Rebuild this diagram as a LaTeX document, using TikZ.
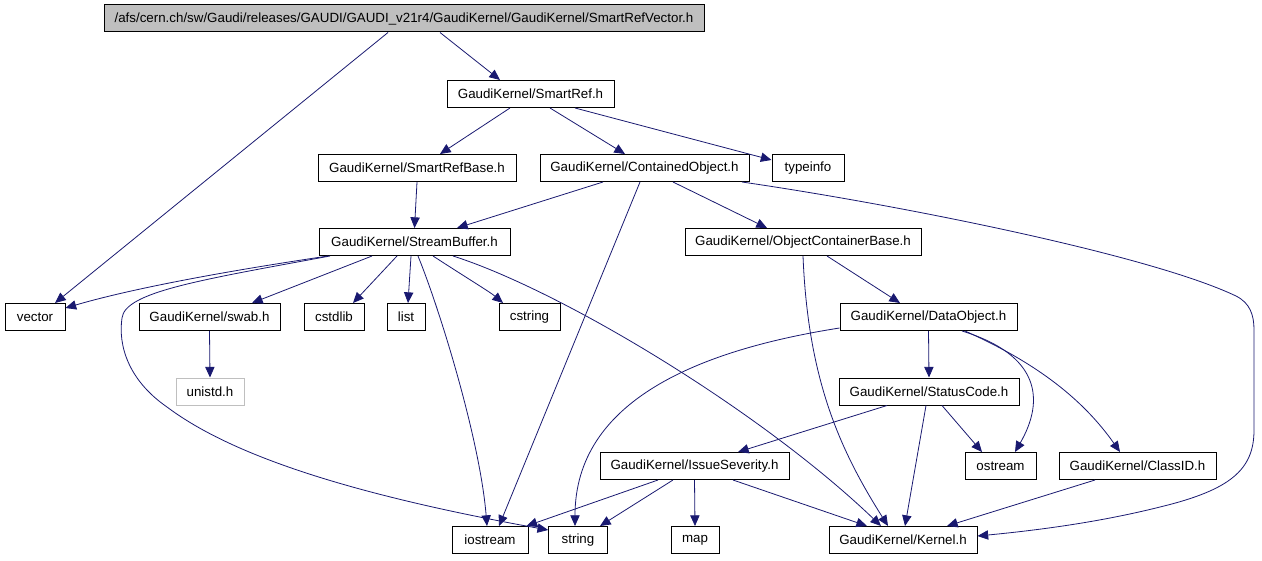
\documentclass[tikz,border=0pt]{standalone}
\usepackage{fontspec}
\setmainfont{Liberation Sans}
\usepackage{tikz}
\usetikzlibrary{calc,arrows.meta}
\definecolor{edgeblue}{RGB}{25,25,112}
\definecolor{rootgray}{RGB}{191,191,191}

\tikzset{
  hdr/.style={draw=black, line width=0.75pt, fill=white, inner sep=0pt,
    minimum height=20.25pt, font=\fontsize{10}{12}\selectfont},
  dep/.style={draw=edgeblue, line width=0.6pt, -{Triangle[length=8pt,width=7pt]}},
}

\begin{document}
\begin{tikzpicture}[x=0.75pt, y=-0.75pt]
    \useasboundingbox (0,0) rectangle (1262,560);

    % Headers
    \node[hdr, fill=rootgray, minimum width=450pt] (root) at (404,18.5) {/afs/cern.ch/sw/Gaudi/releases/GAUDI/GAUDI\_v21r4/GaudiKernel/GaudiKernel/SmartRefVector.h};
    \node[hdr, minimum width=125.25pt] (smartref) at (530.5,94) {GaudiKernel/SmartRef.h};
    \node[hdr, minimum width=148.5pt] (srbase) at (417,168) {GaudiKernel/SmartRefBase.h};
    \node[hdr, minimum width=156.75pt] (contained) at (644.5,168) {GaudiKernel/ContainedObject.h};
    \node[hdr, minimum width=54pt] (typeinfo) at (808,168) {typeinfo};
    \node[hdr, minimum width=143.25pt] (streambuf) at (414.5,242) {GaudiKernel/StreamBuffer.h};
    \node[hdr, minimum width=177pt] (ocb) at (803,242) {GaudiKernel/ObjectContainerBase.h};
    \node[hdr, minimum width=45pt] (vector) at (35,317) {vector};
    \node[hdr, minimum width=105.75pt] (swab) at (209.5,317) {GaudiKernel/swab.h};
    \node[hdr, minimum width=45pt] (cstdlib) at (334,317) {cstdlib};
    \node[hdr, minimum width=28.5pt] (list) at (406,317) {list};
    \node[hdr, minimum width=45.75pt] (cstring) at (529.5,317) {cstring};
    \node[hdr, minimum width=132.75pt] (dataobj) at (928.5,317) {GaudiKernel/DataObject.h};
    \node[hdr, draw=rootgray, minimum width=51pt] (unistd) at (210,391.5) {unistd.h};
    \node[hdr, minimum width=135pt] (status) at (929,391.5) {GaudiKernel/StatusCode.h};
    \node[hdr, minimum width=141.75pt] (issue) at (694.5,466) {GaudiKernel/IssueSeverity.h};
    \node[hdr, minimum width=53.25pt] (ostream) at (1000.5,466) {ostream};
    \node[hdr, minimum width=117.75pt] (classid) at (1137.5,466) {GaudiKernel/ClassID.h};
    \node[hdr, minimum width=57pt] (iostream) at (490,540) {iostream};
    \node[hdr, minimum width=44pt] (string) at (578,540) {string};
    \node[hdr, minimum width=36pt] (map) at (695,540) {map};
    \node[hdr, minimum width=111pt] (kernel) at (903,540) {GaudiKernel/Kernel.h};

    % Includes of SmartRefVector.h and SmartRef.h
    \draw[dep] ($(root.south)+(-16,0)$) -- ($(vector.north)+(20,0)$);
    \draw[dep] ($(root.south)+(36,0)$) -- ($(smartref.north)+(-30.5,0)$);
    \draw[dep] ($(smartref.south)+(-20.5,0)$) -- ($(srbase.north)+(23,0)$);
    \draw[dep] ($(smartref.south)+(19.5,0)$) -- ($(contained.north)+(-19.5,0)$);
    \draw[dep] ($(smartref.south)+(44.5,0)$) -- ($(typeinfo.west)+(0,-8)$);
    \draw[dep] (srbase.south) -- (streambuf.north);

    % ContainedObject.h
    \draw[dep] ($(contained.south)+(-41.5,0)$) -- ($(streambuf.north)+(42.5,0)$);
    \draw[dep] ($(contained.south)+(-4.5,0)$) -- ($(iostream.north)+(9,0)$);
    \draw[dep] ($(contained.south)+(28.5,0)$) -- ($(ocb.north)+(-36,0)$);
    \draw[dep] ($(contained.south)+(97.5,0)$) .. controls (900,205) and (1150,255) .. (1236,296)
        .. controls (1250,303) and (1254,315) .. (1254,330) -- (1254,430)
        .. controls (1254,470) and (1230,490) .. (1160,507)
        .. controls (1100,522) and (1040,530) .. ($(kernel.east)+(0,-4)$);

    % StreamBuffer.h
    \draw[dep] ($(streambuf.south)+(-86.5,0)$) .. controls (200,275) and (120,292) .. ($(vector.east)+(0,-9)$);
    \draw[dep] ($(streambuf.south)+(-84.5,0)$) .. controls (200,280) and (125,292) .. (122,318)
        .. controls (118,345) and (128,380) .. (167,407)
        .. controls (235,458) and (360,496) .. ($(string.west)+(0,-10)$);
    \draw[dep] ($(streambuf.south)+(-42.5,0)$) -- ($(swab.north)+(42.5,0)$);
    \draw[dep] ($(streambuf.south)+(-17.5,0)$) -- ($(cstdlib.north)+(19,0)$);
    \draw[dep] ($(streambuf.south)+(-3.5,0)$) -- ($(list.north)+(2,0)$);
    \draw[dep] ($(streambuf.south)+(3.5,0)$) .. controls (440,310) and (480,440) .. ($(iostream.north)+(-3,0)$);
    \draw[dep] ($(streambuf.south)+(18.5,0)$) .. controls (470,280) and (490,292) .. ($(cstring.north)+(-26.5,0)$);
    \draw[dep] ($(streambuf.south)+(38.5,0)$) .. controls (560,290) and (760,410) .. ($(kernel.north)+(-22,0)$);
    \draw[dep] (swab.south) -- (unistd.north);

    % ObjectContainerBase.h and DataObject.h
    \draw[dep] ($(ocb.south)+(24,0)$) -- ($(dataobj.north)+(-28.5,0)$);
    \draw[dep] (ocb.south) .. controls (808,380) and (840,450) .. ($(kernel.north)+(-15,0)$);
    \draw[dep] ($(dataobj.south west)+(0,-3)$) .. controls (700,350) and (575,400) .. ($(string.north)+(-3,0)$);
    \draw[dep] (dataobj.south) -- (status.north);
    \draw[dep] ($(dataobj.south)+(33.5,0)$) .. controls (1040,355) and (1045,400) .. ($(ostream.north)+(14.5,0)$);
    \draw[dep] ($(dataobj.south)+(36.5,0)$) .. controls (1030,360) and (1080,395) .. ($(classid.north)+(-17.5,0)$);

    % StatusCode.h, IssueSeverity.h, ClassID.h
    \draw[dep] ($(status.south)+(-42,0)$) -- ($(issue.north)+(43.5,0)$);
    \draw[dep] ($(status.south)+(-3,0)$) -- ($(kernel.north)+(2,0)$);
    \draw[dep] ($(status.south)+(13,0)$) -- ($(ostream.north)+(-18.5,0)$);
    \draw[dep] ($(issue.south)+(-36.5,0)$) -- ($(iostream.north east)+(-2,0)$);
    \draw[dep] ($(issue.south)+(-21.5,0)$) -- ($(string.north)+(22,0)$);
    \draw[dep] (issue.south) -- (map.north);
    \draw[dep] ($(issue.south)+(38.5,0)$) -- ($(kernel.north)+(-36,0)$);
    \draw[dep] ($(classid.south)+(-42.5,0)$) -- ($(kernel.north)+(44,0)$);
\end{tikzpicture}
\end{document}
